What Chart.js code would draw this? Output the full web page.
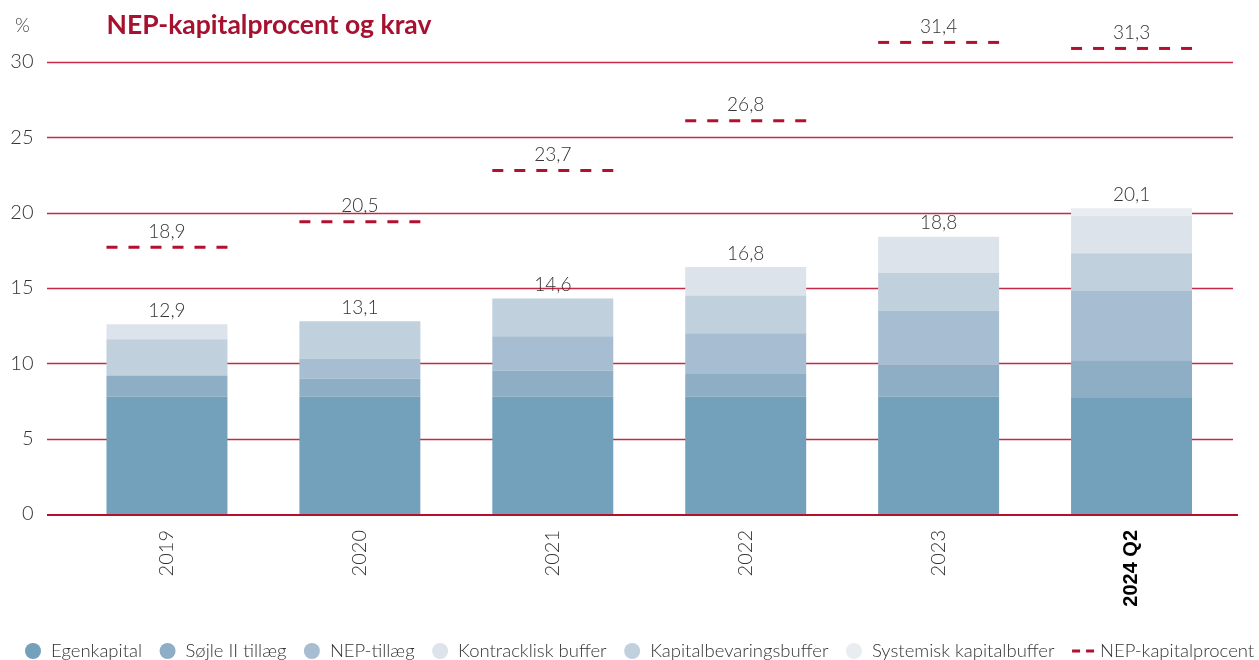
<!DOCTYPE html>
<html><head><meta charset="utf-8">
<script src="https://cdn.jsdelivr.net/npm/chart.js@4.4.1/dist/chart.umd.min.js"></script>
<style>html,body{margin:0;padding:0;background:#fff;overflow:hidden}
#wrap{position:relative;width:1259px;height:660px}</style></head>
<body><div id="wrap"><canvas id="c" width="1259" height="660"></canvas></div>
<script>
const categories = ['2019','2020','2021','2022','2023','2024 Q2'];
const egenkapital = [7.8, 7.8, 7.8, 7.8, 7.8, 7.7];
const sojleIITillaeg = [1.4, 1.2, 1.7, 1.5, 2.1, 2.5];
const nepTillaeg = [0, 1.3, 2.3, 2.7, 3.6, 4.6];
const kapitalbevaringsbuffer = [2.4, 2.5, 2.5, 2.5, 2.5, 2.5];
const kontracykliskBuffer = [1.0, 0, 0, 1.9, 2.4, 2.5];
const systemiskKapitalbuffer = [0, 0, 0, 0, 0, 0.5];
const nepKapitalprocent = [17.7, 19.4, 22.8, 26.1, 31.3, 30.9];
const totalLabels = ['12,9','13,1','14,6','16,8','18,8','20,1'];
const nepLabels = ['18,9','20,5','23,7','26,8','31,4','31,3'];
const yTicks = [0, 5, 10, 15, 20, 25, 30];
const legendOrder = ['Egenkapital','Søjle II tillæg','NEP-tillæg','Kontracklisk buffer','Kapitalbevaringsbuffer','Systemisk kapitalbuffer','NEP-kapitalprocent'];

const RED = '#b3102f';
const barDs = (label, data, color) => ({type:'bar', label, data, backgroundColor: color, borderWidth: 0,
  barPercentage: 0.627, categoryPercentage: 1, stack: 'krav'});

const datasets = [
  barDs('Egenkapital', egenkapital, '#73a0bb'),
  barDs('Søjle II tillæg', sojleIITillaeg, '#8eaec6'),
  barDs('NEP-tillæg', nepTillaeg, '#a7bdd1'),
  barDs('Kapitalbevaringsbuffer', kapitalbevaringsbuffer, '#c0d0dd'),
  barDs('Kontracklisk buffer', kontracykliskBuffer, '#dce3eb'),
  barDs('Systemisk kapitalbuffer', systemiskKapitalbuffer, '#e9edf2'),
  {type:'line', label:'NEP-kapitalprocent', data: nepKapitalprocent, stack:'nep', showLine:false,
   pointRadius:0, pointHoverRadius:0, borderColor: RED, backgroundColor: RED}
];

const custom = {
  id: 'custom',
  beforeDatasetsDraw(chart) {
    const {ctx, chartArea: a, scales: {y}} = chart;
    ctx.save();
    ctx.strokeStyle = '#c42a48';
    ctx.lineWidth = 1.4;
    yTicks.forEach(v => {
      if (v === 0) return;
      const py = Math.round(y.getPixelForValue(v)) + 0.5;
      ctx.beginPath(); ctx.moveTo(a.left - 23.5, py); ctx.lineTo(a.right + 5, py); ctx.stroke();
    });
    ctx.restore();
  },
  afterDatasetsDraw(chart) {
    const {ctx, chartArea: a, scales: {y}} = chart;
    ctx.save();
    const y0 = y.getPixelForValue(0) + 1;
    ctx.strokeStyle = RED; ctx.lineWidth = 2;
    ctx.beginPath(); ctx.moveTo(a.left - 23.5, y0); ctx.lineTo(a.right + 10, y0); ctx.stroke();

    const barMeta = chart.getDatasetMeta(0);
    const nepIdx = datasets.length - 1;
    const nepMeta = chart.getDatasetMeta(nepIdx);
    ctx.font = '300 19px Lato';
    ctx.textAlign = 'center';
    ctx.textBaseline = 'bottom';
    categories.forEach((c, i) => {
      const el = barMeta.data[i];
      const x0 = el.x - el.width / 2, x1 = el.x + el.width / 2;
      let sum = 0;
      for (let d = 0; d < nepIdx; d++) sum += datasets[d].data[i];
      const top = y.getPixelForValue(sum);
      ctx.fillStyle = '#333';
      ctx.fillText(totalLabels[i], el.x, top - 4);
      const py = nepMeta.data[i].y;
      ctx.save();
      ctx.strokeStyle = RED; ctx.lineWidth = 3; ctx.setLineDash([11, 11]);
      ctx.beginPath(); ctx.moveTo(x0, py); ctx.lineTo(x1, py); ctx.stroke();
      ctx.restore();
      ctx.fillText(nepLabels[i], el.x, py - 6);
    });

    ctx.textAlign = 'left'; ctx.textBaseline = 'middle';
    ctx.fillStyle = '#a5112f';
    ctx.font = 'bold 26.5px Lato';
    ctx.fillText('NEP-kapitalprocent og krav', barMeta.data[0].x - barMeta.data[0].width / 2, 25);
    ctx.fillStyle = '#444';
    ctx.font = '300 19px Lato';
    ctx.fillText('%', 15, 26);

    let lx = 25;
    const ly = 651;
    ctx.font = '300 18.5px Lato';
    legendOrder.forEach(name => {
      const ds = datasets.find(d => d.label === name);
      if (ds.type === 'line') {
        ctx.fillStyle = RED;
        ctx.fillRect(lx, ly - 1.5, 8, 3);
        ctx.fillRect(lx + 14, ly - 1.5, 8, 3);
        lx += 28;
      } else {
        ctx.fillStyle = ds.backgroundColor;
        ctx.beginPath(); ctx.arc(lx + 8, ly, 8, 0, Math.PI * 2); ctx.fill();
        lx += 26;
      }
      ctx.fillStyle = '#333';
      ctx.fillText(name, lx, ly);
      lx += ctx.measureText(name).width + 17.5;
    });
    ctx.restore();
  }
};

new Chart(document.getElementById('c'), {
  data: { labels: categories, datasets },
  options: {
    responsive: false,
    animation: false,
    events: [],
    layout: { padding: { left: 0, right: 31, top: 62, bottom: 0 } },
    plugins: { legend: { display: false }, tooltip: { enabled: false } },
    scales: {
      x: {
        stacked: true,
        grid: { display: false, drawTicks: false },
        border: { display: false },
        afterFit: s => { s.height = 146; },
        ticks: {
          autoSkip: false, maxRotation: 90, minRotation: 90, padding: 16,
          color: c => c.index === 5 ? '#000' : '#333',
          font: c => c.index === 5 ? {family: 'Liberation Sans', weight: 'bold', size: 20} : {family: 'Lato', weight: 300, size: 20}
        }
      },
      y: {
        stacked: true, min: 0, max: 30,
        grid: { display: false, drawTicks: false },
        border: { display: false },
        afterFit: s => { s.width = 70.5; },
        ticks: { stepSize: 5, padding: 37, color: '#333', font: { family: 'Lato', weight: 300, size: 20 } }
      }
    }
  },
  plugins: [custom]
});
</script></body></html>
